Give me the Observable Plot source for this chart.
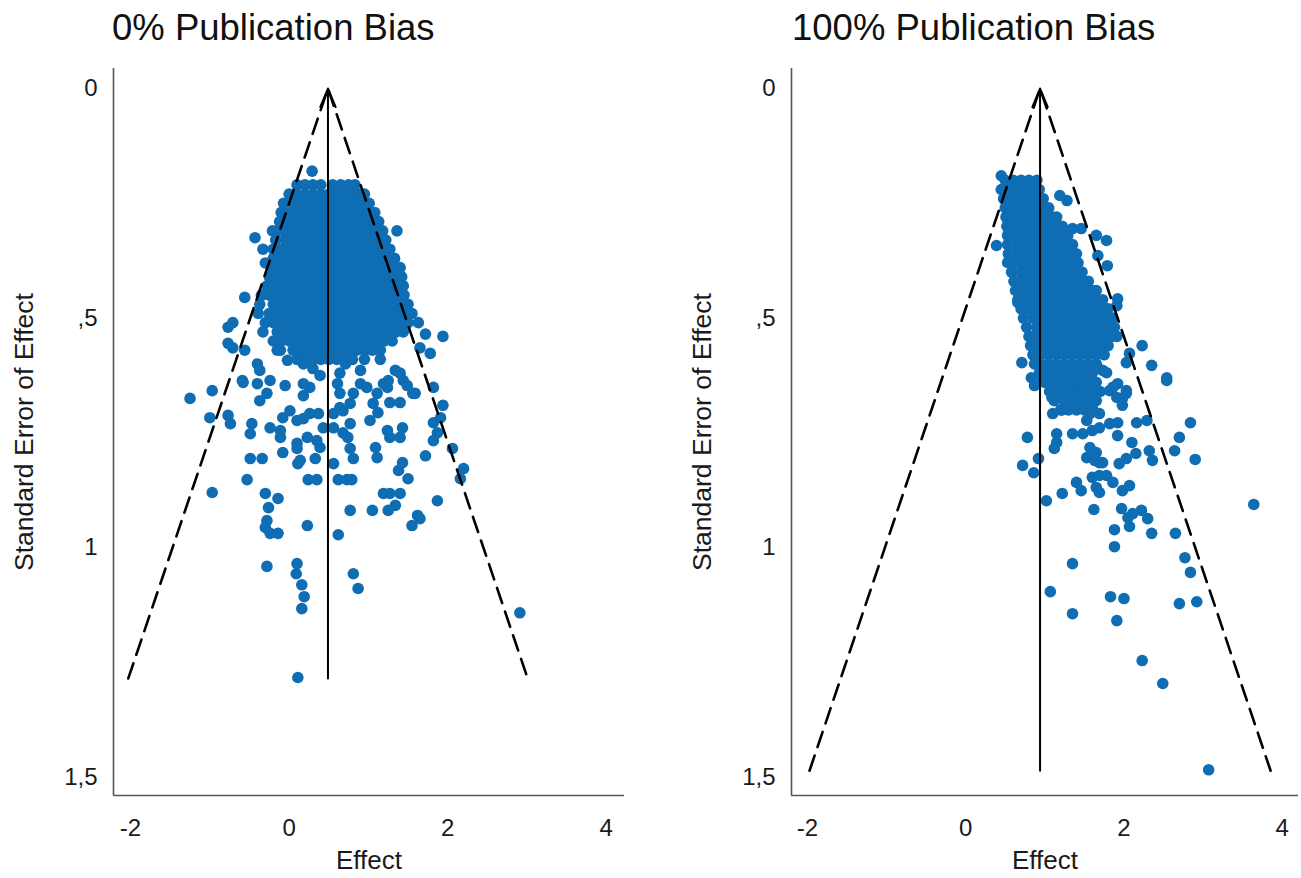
<!DOCTYPE html>
<html><head><meta charset="utf-8">
<script src="https://cdn.jsdelivr.net/npm/d3@7"></script>
<script src="https://cdn.jsdelivr.net/npm/@observablehq/plot@0.6"></script>
<style>
html,body{margin:0;padding:0;background:#fff;}
#root{position:relative;width:1301px;height:878px;overflow:hidden;font-family:"Liberation Sans",Arial,sans-serif;}
.title{position:absolute;top:10px;font-size:36.5px;color:#111;white-space:nowrap;line-height:1;}
.panel{position:absolute;top:60px;}
</style></head><body>
<div id="root">
 <div class="title" id="t0" style="left:112px"></div>
 <div class="title" id="t1" style="left:792px"></div>
 <div class="panel" id="left" style="left:0px"></div>
 <div class="panel" id="right" style="left:650px"></div>
</div>
<script>
// ---- data -------------------------------------------------------------
const titles = ["0% Publication Bias", "100% Publication Bias"];
const xTicks = [-2, 0, 2, 4];
const yTicks = [0, 0.5, 1, 1.5];
const xLabel = "Effect";
const yLabel = "Standard Error of Effect";

// funnel parameters (mean effect, largest standard error)
const leftFunnel = {mean: 0.49, maxSE: 1.285};
const rightFunnel = {mean: 0.94, maxSE: 1.486};

// dense core, read row by row: [standard error, [effects]]
const leftRows = [
 [0.21,[0.1,0.2,0.3,0.4,0.55,0.65,0.75,0.83]],
 [0.23,[0.0,0.1,0.2,0.3,0.4,0.5,0.6,0.7,0.8,0.9,0.95]],
 [0.25,[-0.07,0.05,0.15,0.25,0.35,0.45,0.55,0.65,0.75,0.85,0.95,1.01]],
 [0.27,[-0.1,0.0,0.1,0.2,0.3,0.4,0.5,0.6,0.7,0.8,0.9,1.0,1.08]],
 [0.29,[-0.12,-0.05,0.05,0.15,0.25,0.35,0.45,0.55,0.65,0.75,0.85,0.95,1.05,1.13]],
 [0.31,[-0.15,-0.1,0.0,0.1,0.2,0.3,0.4,0.5,0.6,0.7,0.8,0.9,1.0,1.1,1.18]],
 [0.33,[-0.17,-0.05,0.05,0.15,0.25,0.35,0.45,0.55,0.65,0.75,0.85,0.95,1.05,1.15,1.22]],
 [0.35,[-0.2,-0.1,0.0,0.1,0.2,0.3,0.4,0.5,0.6,0.7,0.8,0.9,1.0,1.1,1.2,1.27]],
 [0.37,[-0.2,-0.15,-0.05,0.05,0.15,0.25,0.35,0.45,0.55,0.65,0.75,0.85,0.95,1.05,1.15,1.25,1.33]],
 [0.39,[-0.21,-0.1,0.0,0.1,0.2,0.3,0.4,0.5,0.6,0.7,0.8,0.9,1.0,1.1,1.2,1.3,1.4]],
 [0.41,[-0.25,-0.15,-0.05,0.05,0.15,0.25,0.35,0.45,0.55,0.65,0.75,0.85,0.95,1.05,1.15,1.25,1.35,1.42]],
 [0.43,[-0.28,-0.2,-0.1,0.0,0.1,0.2,0.3,0.4,0.5,0.6,0.7,0.8,0.9,1.0,1.1,1.2,1.3,1.4,1.44]],
 [0.45,[-0.35,-0.25,-0.15,-0.05,0.05,0.15,0.25,0.35,0.45,0.55,0.65,0.75,0.85,0.95,1.05,1.15,1.25,1.35,1.45]],
 [0.47,[-0.37,-0.2,-0.1,0.0,0.1,0.2,0.3,0.4,0.5,0.6,0.7,0.8,0.9,1.0,1.1,1.2,1.3,1.4,1.5]],
 [0.49,[-0.39,-0.25,-0.15,-0.05,0.05,0.15,0.25,0.35,0.45,0.55,0.65,0.75,0.85,0.95,1.05,1.15,1.25,1.35,1.45,1.55]],
 [0.51,[-0.3,-0.2,-0.1,0.0,0.1,0.2,0.3,0.4,0.5,0.6,0.7,0.8,0.9,1.0,1.1,1.2,1.3,1.4,1.5]],
 [0.53,[-0.33,-0.15,-0.05,0.05,0.15,0.25,0.35,0.45,0.55,0.65,0.75,0.85,0.95,1.05,1.15,1.25,1.35,1.44]],
 [0.55,[-0.2,-0.1,0.0,0.1,0.2,0.3,0.4,0.5,0.6,0.7,0.8,0.9,1.0,1.1,1.2,1.3]],
 [0.57,[-0.15,0.05,0.15,0.25,0.35,0.45,0.55,0.65,0.75,0.85,0.95,1.05,1.15]],
 [0.59,[0.1,0.2,0.3,0.4,0.5,0.6,0.7,0.8,0.95]]
];
// individual studies outside the core: [effect, standard error]
const leftScatter = [
 [0.29,0.18],[-0.43,0.325],[-0.21,0.31],[1.36,0.31],[-0.33,0.35],[-0.30,0.38],
 [-0.56,0.455],[-0.71,0.51],[-0.77,0.52],[-0.77,0.555],[-0.71,0.565],[-0.56,0.57],[-0.40,0.6],[-0.37,0.614],[-0.59,0.636],[-1.25,0.675],[-0.97,0.658],
 [1.63,0.51],[1.72,0.535],[1.94,0.54],[1.65,0.565],[1.78,0.577],[1.82,0.651],[1.94,0.69],[1.59,0.664],[1.44,0.636],[1.40,0.62],[1.25,0.636],
 [-1.0,0.717],[-0.77,0.712],[-0.74,0.73],[-0.47,0.73],[-0.49,0.752],[-0.37,0.68],[-0.28,0.664],[-0.58,0.64],[-0.40,0.643],[-0.24,0.739],[-0.11,0.745],
 [-0.08,0.717],[0.01,0.702],[0.10,0.723],[0.18,0.719],[0.26,0.708],[0.37,0.708],[-0.11,0.76],[-0.08,0.793],[0.10,0.773],[0.10,0.784],[0.14,0.81],
 [0.23,0.76],[0.35,0.767],[0.39,0.782],[0.33,0.806],[0.11,0.817],[-0.49,0.806],[-0.34,0.806],[-0.53,0.852],[-0.97,0.88],[0.24,0.852],[0.35,0.852],
 [-0.30,0.882],[-0.14,0.893],[-0.26,0.913],[-0.28,0.941],[-0.30,0.956],[-0.24,0.969],[-0.14,0.969],[0.23,0.952],[-0.28,1.041],[0.10,1.035],[0.09,1.057],
 [0.16,1.081],[0.19,1.107],[0.16,1.133],[0.11,1.283],[0.56,0.817],[0.62,0.852],[0.73,0.852],[0.79,0.852],[0.62,0.972],[0.77,0.919],[0.81,1.057],[0.87,1.089],
 [0.77,0.784],[0.81,0.806],[1.05,0.919],[1.09,0.782],[1.11,0.804],[1.25,0.919],[1.34,0.908],[1.19,0.882],[1.27,0.882],[1.40,0.882],[1.38,0.832],[1.43,0.815],
 [1.50,0.85],[1.55,0.952],[1.62,0.93],[1.65,0.937],[1.87,0.898],[1.72,0.80],[2.06,0.784],[2.20,0.828],[2.16,0.85],[1.82,0.767],[1.82,0.728],[1.87,0.75],
 [1.91,0.717],[1.56,0.664],[1.49,0.647],[1.27,0.684],[1.40,0.684],[1.24,0.745],[1.27,0.76],[1.40,0.76],[1.43,0.739],[1.02,0.723],[1.06,0.686],[1.12,0.706],
 [1.11,0.664],[0.81,0.664],[0.77,0.686],[0.68,0.702],[0.77,0.73],[0.68,0.75],[0.74,0.76],[0.43,0.739],[0.56,0.739],[0.56,0.708],[0.64,0.695],[0.18,0.643],
 [0.26,0.651],[0.18,0.669],[0.61,0.643],[0.64,0.664],[0.90,0.643],[0.98,0.651],[1.19,0.643],[1.24,0.651],[2.91,1.142],
 [-0.11,0.57],[-0.02,0.592],[0.18,0.6],[0.30,0.61],[0.71,0.6],[0.9,0.614],[1.15,0.59],[1.34,0.614],[-0.24,0.636],[-0.05,0.647],[0.39,0.625],[0.64,0.62]
];

const rightRows = [
 [0.20,[0.5,0.6,0.7,0.8,0.9]],
 [0.22,[0.45,0.55,0.65,0.75,0.85,0.93]],
 [0.24,[0.48,0.6,0.7,0.8,0.9,0.98]],
 [0.26,[0.5,0.55,0.65,0.75,0.85,0.95,1.05]],
 [0.28,[0.51,0.6,0.7,0.8,0.9,1.0,1.1,1.15]],
 [0.30,[0.52,0.55,0.65,0.75,0.85,0.95,1.05,1.15,1.22]],
 [0.32,[0.53,0.6,0.7,0.8,0.9,1.0,1.1,1.2,1.29]],
 [0.34,[0.53,0.65,0.75,0.85,0.95,1.05,1.15,1.25,1.35]],
 [0.36,[0.54,0.6,0.7,0.8,0.9,1.0,1.1,1.2,1.3,1.4]],
 [0.38,[0.56,0.65,0.75,0.85,0.95,1.05,1.15,1.25,1.35,1.42]],
 [0.40,[0.58,0.7,0.8,0.9,1.0,1.1,1.2,1.3,1.4,1.47]],
 [0.42,[0.61,0.65,0.75,0.85,0.95,1.05,1.15,1.25,1.35,1.45,1.55]],
 [0.44,[0.63,0.7,0.8,0.9,1.0,1.1,1.2,1.3,1.4,1.5,1.6,1.65]],
 [0.46,[0.66,0.75,0.85,0.95,1.05,1.15,1.25,1.35,1.45,1.55,1.65,1.73]],
 [0.48,[0.7,0.8,0.9,1.0,1.1,1.2,1.3,1.4,1.5,1.6,1.7,1.8]],
 [0.50,[0.73,0.85,0.95,1.05,1.15,1.25,1.35,1.45,1.55,1.65,1.75,1.86]],
 [0.52,[0.77,0.9,1.0,1.1,1.2,1.3,1.4,1.5,1.6,1.7,1.8,1.88]],
 [0.54,[0.8,0.85,0.95,1.05,1.15,1.25,1.35,1.45,1.55,1.65,1.75,1.85,1.91]],
 [0.56,[0.82,0.9,1.0,1.1,1.2,1.3,1.4,1.5,1.6,1.7,1.8]],
 [0.58,[0.85,0.95,1.05,1.15,1.25,1.35,1.45,1.55,1.65,1.75]],
 [0.60,[0.87,0.95,1.05,1.15,1.25,1.35,1.45,1.55,1.65]],
 [0.62,[0.93,1.0,1.1,1.2,1.3,1.4,1.5,1.6]],
 [0.64,[1.0,1.05,1.15,1.25,1.35,1.45,1.55,1.65]],
 [0.66,[1.06,1.1,1.2,1.3,1.4,1.5,1.6,1.7]],
 [0.68,[1.12,1.25,1.35,1.45,1.55,1.65]],
 [0.70,[1.2,1.3,1.4,1.5]]
];
const rightScatter = [
 [0.45,0.19],[1.19,0.233],[1.28,0.244],[1.35,0.305],[1.46,0.305],[1.65,0.32],[1.78,0.331],[1.67,0.364],[1.79,0.386],
 [1.92,0.458],[1.91,0.473],[0.39,0.342],[0.53,0.379],[0.66,0.466],[2.23,0.56],[2.35,0.603],[2.54,0.63],[2.07,0.577],[2.03,0.597],
 [0.71,0.597],[0.83,0.63],[1.73,0.614],[1.78,0.619],[1.92,0.643],[2.03,0.658],[1.82,0.658],[1.98,0.675],[1.09,0.673],[0.87,0.647],[0.97,0.636],
 [1.15,0.673],[1.22,0.70],[1.35,0.664],[1.44,0.686],[1.57,0.708],[1.60,0.695],[1.69,0.708],[1.53,0.723],[1.86,0.651],[1.91,0.673],[2.03,0.664],[1.98,0.69],
 [1.10,0.708],[2.54,0.636],[2.16,0.728],[2.29,0.723],[2.84,0.728],[0.78,0.76],[1.15,0.752],[1.15,0.771],[1.12,0.784],
 [1.35,0.752],[1.48,0.752],[1.60,0.745],[1.69,0.739],[1.82,0.73],[1.92,0.728],[1.92,0.756],[2.10,0.771],[2.70,0.76],[2.64,0.789],
 [2.32,0.789],[2.36,0.81],[2.15,0.795],[2.03,0.806],[1.94,0.817],[1.57,0.782],[1.65,0.793],[1.53,0.804],[1.69,0.815],[1.73,0.815],[1.63,0.81],
 [2.90,0.808],[0.92,0.806],[0.72,0.821],[0.86,0.837],[1.60,0.847],[1.69,0.843],[1.78,0.843],[1.86,0.858],[1.65,0.869],[1.40,0.858],[1.46,0.876],
 [1.69,0.88],[1.98,0.876],[2.07,0.865],[1.22,0.882],[1.02,0.898],[1.62,0.917],[1.97,0.915],[2.05,0.935],[2.11,0.926],[2.22,0.919],[2.30,0.937],[2.07,0.954],
 [1.88,0.961],[2.35,0.969],[2.65,0.969],[1.88,0.998],[3.64,0.906],[2.77,1.022],[2.84,1.054],[1.35,1.035],[1.07,1.096],[1.83,1.107],[2.0,1.111],
 [2.70,1.122],[2.92,1.118],[1.35,1.144],[1.91,1.159],[2.23,1.246],[2.49,1.296],[3.07,1.484]
];

// ---- drawing ----------------------------------------------------------
document.getElementById("t0").textContent = titles[0];
document.getElementById("t1").textContent = titles[1];

const dotColor = "#0f6db3";
const yDomain = [-0.0436, 1.540];
const fmtSE = d => { const s = String(d).replace(".", ","); return s.startsWith("0,") ? s.slice(1) : s; };
const fmtEffect = d => String(d);

function toPoints(rows, scatter) {
  return rows.flatMap(([se, effs]) => effs.map(effect => ({effect, se})))
    .concat(scatter.map(([effect, se]) => ({effect, se})));
}

function panel({points, funnel, xDomain, width, marginLeft, marginRight}) {
  const {mean, maxSE} = funnel;
  const outline = [
    {effect: mean - 1.96 * maxSE, se: maxSE},
    {effect: mean, se: 0},
    {effect: mean + 1.96 * maxSE, se: maxSE}
  ];
  return Plot.plot({
    width, height: 818, marginLeft, marginRight, marginTop: 8, marginBottom: 83,
    style: {fontFamily: '"Liberation Sans", Arial, sans-serif', fontSize: "24px", color: "#1a1a1a", background: "white", overflow: "visible"},
    x: {domain: xDomain},
    y: {domain: yDomain, reverse: true},
    marks: [
      Plot.dot(points, {x: "effect", y: "se", r: 5.8, fill: dotColor, stroke: "none"}),
      Plot.line(outline, {x: "effect", y: "se", stroke: "#000", strokeWidth: 2.6, strokeDasharray: "16,9"}),
      Plot.arrow([{mean, maxSE, top: 0}], {x1: "mean", y1: "maxSE", x2: "mean", y2: "top", stroke: "#000", strokeWidth: 2, headLength: 15, headAngle: 45}),
      Plot.ruleX([xDomain[0]], {stroke: "#555", strokeWidth: 1.6}),
      Plot.ruleY([yDomain[1]], {stroke: "#555", strokeWidth: 1.6}),
      Plot.axisX({ticks: xTicks, tickSize: 0, tickPadding: 23, tickFormat: fmtEffect, label: null, fontSize: 24}),
      Plot.axisY({ticks: yTicks, tickSize: 0, tickPadding: 16, tickFormat: fmtSE, label: null, fontSize: 24}),
      Plot.text([xLabel], {text: d => d, frameAnchor: "bottom", dy: 73, lineAnchor: "bottom", textAnchor: "middle", fontSize: 26, fill: "#1a1a1a"}),
      Plot.text([yLabel], {text: d => d, frameAnchor: "left", dx: -99, rotate: -90, lineAnchor: "top", textAnchor: "middle", fontSize: 26.5, fill: "#1a1a1a"})
    ]
  });
}

document.getElementById("left").appendChild(panel({
  points: toPoints(leftRows, leftScatter), funnel: leftFunnel,
  xDomain: [-2.215, 4.23], width: 650, marginLeft: 113, marginRight: 26
}));
document.getElementById("right").appendChild(panel({
  points: toPoints(rightRows, rightScatter), funnel: rightFunnel,
  xDomain: [-2.20, 4.205], width: 651, marginLeft: 141, marginRight: 3
}));
</script>
</body></html>
